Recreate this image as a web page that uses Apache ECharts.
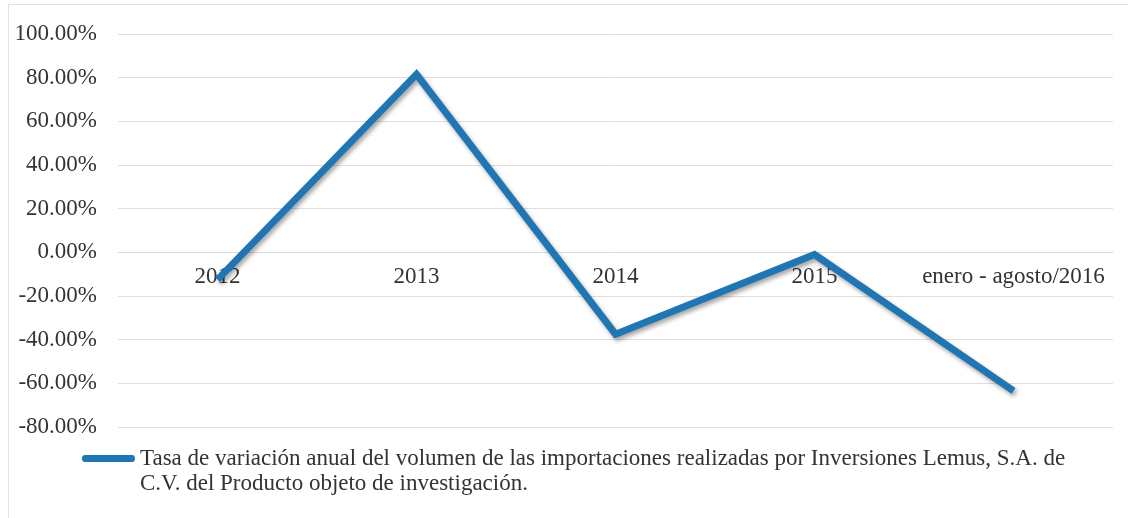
<!DOCTYPE html>
<html>
<head>
<meta charset="utf-8">
<script src="https://cdn.jsdelivr.net/npm/echarts@6/dist/echarts.min.js"></script>
<style>
* { margin: 0; padding: 0; }
body { background: #fff; }
#chart {
    position: absolute;
    left: 0; top: 0;
    width: 1128px; height: 518px;
}
#frame {
    position: absolute;
    left: 8px; top: 4px;
    width: 1130px; height: 520px;
    border-left: 1px solid #e2e2e2;
    border-top: 1px solid #e2e2e2;
}
</style>
</head>
<body>
<div id="frame"></div>
<div id="chart"></div>
<script>
// datos
const categories = ['2012', '2013', '2014', '2015', 'enero - agosto/2016'];
const tasaVariacion = [-12.5, 81.5, -37.5, -1.0, -63.5];
const seriesName = 'Tasa de variación anual del volumen de las importaciones realizadas por Inversiones Lemus, S.A. de C.V. del Producto objeto de investigación.';

const chart = echarts.init(document.getElementById('chart'));

const option = {
    backgroundColor: 'transparent',
    animation: false,
    textStyle: { fontFamily: '"Liberation Serif", "DejaVu Serif", serif' },
    grid: {
        left: 118,
        right: 15,
        top: 34,
        bottom: 91,
        containLabel: false
    },
    legend: {
        left: 82,
        top: 446,
        padding: 0,
        itemWidth: 53,
        itemHeight: 32,
        itemGap: 0,
        // barra arriba + punto invisible abajo, para alinear con la primera linea
        icon: 'path://M3,0 L50,0 Q53,0 53,3.5 Q53,7 50,7 L3,7 Q0,7 0,3.5 Q0,0 3,0 Z M26,32 L26.01,32 L26,32.01 Z',
        formatter: (name) => name.replace('S.A. de C.V.', 'S.A. de\nC.V.'),
        textStyle: {
            fontFamily: '"Liberation Serif", serif',
            fontSize: 23,
            lineHeight: 25,
            color: '#333',
            padding: [0, 0, 0, 0]
        },
        data: [seriesName]
    },
    xAxis: {
        type: 'category',
        data: categories,
        boundaryGap: true,
        axisLine: { show: true, onZero: true, lineStyle: { color: '#dcdcdc' } },
        axisTick: { show: false },
        axisLabel: {
            interval: 0,
            fontSize: 23,
            color: '#333',
            margin: 13,
            fontFamily: '"Liberation Serif", serif'
        }
    },
    yAxis: {
        type: 'value',
        min: -80,
        max: 100,
        interval: 20,
        axisLine: { show: false },
        axisTick: { show: false },
        axisLabel: {
            fontSize: 23,
            color: '#333',
            margin: 21,
            fontFamily: '"Liberation Serif", serif',
            formatter: (v) => v.toFixed(2) + '%'
        },
        splitLine: { lineStyle: { color: '#dedede', width: 1 } }
    },
    series: [{
        name: seriesName,
        type: 'line',
        data: tasaVariacion,
        symbol: 'none',
        color: '#1f76b3',
        lineStyle: {
            width: 7,
            color: '#1f76b3',
            join: 'miter',
            cap: 'butt',
            shadowColor: 'rgba(0,0,0,0.35)',
            shadowBlur: 4,
            shadowOffsetX: 2,
            shadowOffsetY: 3
        },
        itemStyle: { color: '#1f76b3' }
    }]
};

chart.setOption(option);

// el eje de categorias cruza en 0 (como en Excel)
const yZero = chart.convertToPixel({ yAxisIndex: 0 }, 0);
const yBottom = chart.convertToPixel({ yAxisIndex: 0 }, -80);
chart.setOption({ xAxis: { offset: -(yBottom - yZero) } });
</script>
</body>
</html>
